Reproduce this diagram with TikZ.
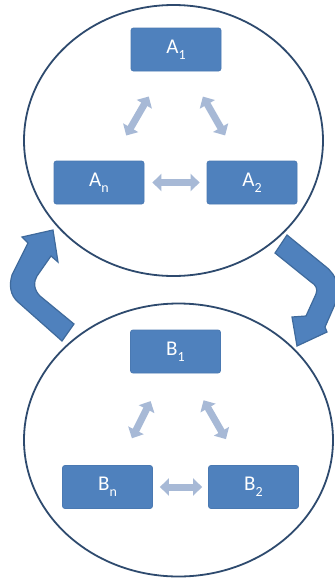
\documentclass[tikz,border=0pt]{standalone}
\usepackage{fontspec}
\setmainfont{Carlito}
\usetikzlibrary{shapes.geometric,arrows.meta}
\definecolor{boxblue}{HTML}{4F81BD}
\definecolor{boxline}{HTML}{4A79B2}
\definecolor{navy}{HTML}{2E4A6E}
\definecolor{arrline}{HTML}{3F6A9C}
\definecolor{lightarr}{HTML}{A7B9D6}
\newcommand{\subx}[1]{\raisebox{-0.3em}{\fontsize{14}{14}\selectfont #1}}
\tikzset{
  blockbox/.style={rectangle, rounded corners=2.5pt, fill=boxblue, draw=boxline, line width=0.8pt,
    minimum width=90pt, minimum height=43pt, inner sep=0pt, text=white, font=\fontsize{21}{21}\selectfont},
  group/.style={ellipse, draw=navy, line width=1.8pt, inner sep=0pt},
  dblarrow/.style={draw=lightarr, line width=7pt,
    {Triangle[width=17pt,length=9pt]}-{Triangle[width=17pt,length=9pt]}},
  bigarrow/.style={fill=boxblue, draw=arrline, line width=1.2pt, line join=miter}
}
\begin{document}
\begin{tikzpicture}[x=1pt,y=-1pt]
\useasboundingbox (0,0) rectangle (335,579);
\clip (0,0) rectangle (335,579);
\fill[white] (0,0) rectangle (335,579);
% groups
\node[group, minimum width=299pt, minimum height=271pt] (GA) at (173.5,140.5) {};
\node[group, minimum width=309pt, minimum height=273pt] (GB) at (178.5,440) {};
% boxes A
\node[blockbox] (A1) at (176,49.5) {A\subx{1}};
\node[blockbox] (An) at (99,182.5) {A\subx{n}};
\node[blockbox] (A2) at (252,182.5) {A\subx{2}};
% boxes B
\node[blockbox] (B1) at (175.5,351.5) {B\subx{1}};
\node[blockbox] (Bn) at (107.5,487) {B\subx{n}};
\node[blockbox] (B2) at (253.5,487) {B\subx{2}};
% light double arrows
\draw[dblarrow, shorten <=29pt, shorten >=29pt] (An) -- (A1);
\draw[dblarrow, shorten <=29pt, shorten >=29pt] (A1) -- (A2);
\draw[dblarrow, shorten <=8pt, shorten >=7pt] (An) -- (A2);
\draw[dblarrow, shorten <=30pt, shorten >=31pt] (Bn) -- (B1);
\draw[dblarrow, shorten <=31pt, shorten >=30pt] (B1) -- (B2);
\draw[dblarrow, shorten <=7pt, shorten >=6pt] (Bn) -- (B2);
% big curved arrows
\filldraw[bigarrow] (62,341) -- (18,302) .. controls (10,295) and (9,285) .. (12,275)
  -- (28,243) -- (22,237) -- (53,230) -- (58,262) -- (51,256) -- (37,276)
  .. controls (33,282) and (34,290) .. (40,296) -- (74,324) -- cycle;
\filldraw[bigarrow] (287,235) -- (325,266) .. controls (338,276) and (341,290) .. (336,302)
  -- (325,327) -- (327,332) -- (297,346) -- (292,317) -- (306,316) -- (316,294)
  .. controls (318,289) and (316,285) .. (311,282) -- (275,253) -- cycle;
\end{tikzpicture}
\end{document}
